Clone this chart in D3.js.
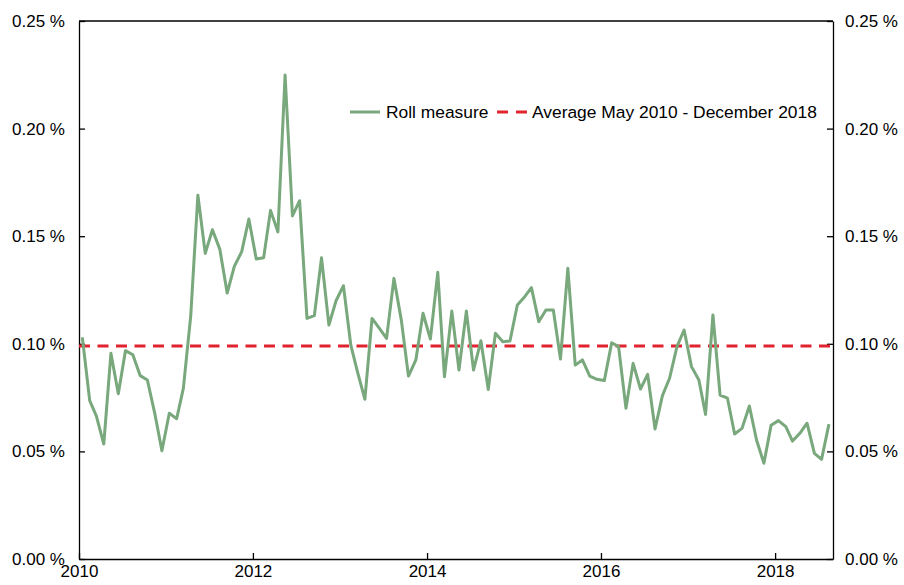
<!DOCTYPE html>
<html>
<head>
<meta charset="utf-8">
<script src="https://cdn.jsdelivr.net/npm/d3@7"></script>
<style>
  html, body { margin: 0; padding: 0; background: #fff; }
  svg { display: block; }
  text { font-family: "Liberation Sans", Arial, sans-serif; fill: #000; }
</style>
</head>
<body>
<svg id="chart" width="904" height="585"></svg>
<script>
// Monthly Roll measure, in percent, January 2010 - August 2018
const startYear = 2010;
const startMonth = 0; // January
const rollMeasure = [
  0.103, 0.0736, 0.0664, 0.0534, 0.0956, 0.0768, 0.0968, 0.0949, 0.0852, 0.0832, 0.0677, 0.0503,
  0.0677, 0.0652, 0.0793, 0.113, 0.169, 0.142, 0.153, 0.144, 0.1236, 0.136, 0.1428, 0.158,
  0.1394, 0.140, 0.162, 0.152, 0.2249, 0.1594, 0.1665, 0.1118, 0.1131, 0.140, 0.1087, 0.120,
  0.127, 0.0994, 0.087, 0.0742, 0.1118, 0.1072, 0.1025, 0.1304, 0.111, 0.085, 0.0925, 0.1142,
  0.1022, 0.1332, 0.0847, 0.1152, 0.0878, 0.1152, 0.0878, 0.1014, 0.0788, 0.1049, 0.101, 0.1013,
  0.118, 0.1219, 0.1261, 0.1103, 0.1157, 0.1157, 0.0929, 0.1351, 0.0901, 0.0925, 0.085, 0.0835,
  0.0829, 0.1005, 0.0987, 0.070, 0.0909, 0.079, 0.0858, 0.0604, 0.0759, 0.084, 0.0987, 0.1064,
  0.0894, 0.0832, 0.0672, 0.1134, 0.0762, 0.0747, 0.0581, 0.0607, 0.0711, 0.0553, 0.0445, 0.0621,
  0.0643, 0.0615, 0.0548, 0.0584, 0.0631, 0.0491, 0.0463, 0.0627
];
// Average of the measure, May 2010 - December 2018
const averageValue = 0.099;

const yTicks = [0, 0.05, 0.10, 0.15, 0.20, 0.25];
const xTickYears = [2010, 2012, 2014, 2016, 2018];
const seriesLabels = ["Roll measure", "Average May 2010 - December 2018"];

const margin = { left: 79, right: 904 - 833, top: 21, bottom: 585 - 559 };
const width = 904, height = 585;

const svg = d3.select("#chart");

// Each monthly observation is placed in the middle of its month
const points = rollMeasure.map((v, i) => ({
  date: new Date(startYear, startMonth + i, 15),
  value: v
}));

const x = d3.scaleTime()
  .domain([new Date(2010, 0, 1), new Date(2018, 8, 1)])
  .range([margin.left, width - margin.right]);

const y = d3.scaleLinear()
  .domain([0, 0.25])
  .range([height - margin.bottom, margin.top]);

const fmt = d => d3.format(".2f")(d) + " %";

// Frame axes, ticks pointing into the plot
const axisColor = "#000";
const leftAxis = d3.axisLeft(y).tickValues(yTicks).tickFormat(fmt).tickSizeInner(-6).tickSizeOuter(0).tickPadding(14);
const rightAxis = d3.axisRight(y).tickValues(yTicks).tickFormat(fmt).tickSizeInner(-6).tickSizeOuter(0).tickPadding(12);
const bottomAxis = d3.axisBottom(x)
  .tickValues(xTickYears.map(yr => new Date(yr, 0, 1)))
  .tickFormat(d3.timeFormat("%Y"))
  .tickSizeInner(-6).tickSizeOuter(0).tickPadding(6);

function styleAxis(g) {
  g.selectAll("path, line").attr("stroke", axisColor).attr("stroke-width", 1.3);
  g.selectAll("text").style("font-size", "17px").style("font-family", "'Liberation Sans', Arial, sans-serif").attr("fill", "#000");
}

svg.append("g").attr("transform", `translate(${margin.left},0)`).call(leftAxis).call(styleAxis);
svg.append("g").attr("transform", `translate(${width - margin.right},0)`).call(rightAxis).call(styleAxis);
svg.append("g").attr("transform", `translate(0,${height - margin.bottom})`).call(bottomAxis).call(styleAxis);

// Top border of the frame
svg.append("line")
  .attr("x1", margin.left).attr("x2", width - margin.right)
  .attr("y1", margin.top).attr("y2", margin.top)
  .attr("stroke", axisColor).attr("stroke-width", 1.3);

const green = "#78a87c";
const red = "#e0232e";

// Average line
svg.append("line")
  .attr("x1", x.range()[0]).attr("x2", x.range()[1])
  .attr("y1", y(averageValue)).attr("y2", y(averageValue))
  .attr("stroke", red).attr("stroke-width", 3)
  .attr("stroke-dasharray", "11,7.5");

// Roll measure series
const line = d3.line().x(d => x(d.date)).y(d => y(d.value));
svg.append("path")
  .datum(points)
  .attr("fill", "none")
  .attr("stroke", green)
  .attr("stroke-width", 3)
  .attr("stroke-linejoin", "round")
  .attr("d", line);

// Legend
const legend = svg.append("g").attr("transform", "translate(350,112)");
legend.append("line").attr("x1", 0).attr("x2", 30).attr("y1", 0).attr("y2", 0)
  .attr("stroke", green).attr("stroke-width", 3);
legend.append("text").attr("x", 36).attr("y", 0).attr("dy", "0.35em")
  .style("font-size", "17.4px").text(seriesLabels[0]);
legend.append("line").attr("x1", 147).attr("x2", 177).attr("y1", 0).attr("y2", 0)
  .attr("stroke", red).attr("stroke-width", 3).attr("stroke-dasharray", "11,8");
legend.append("text").attr("x", 182).attr("y", 0).attr("dy", "0.35em")
  .style("font-size", "17.4px").text(seriesLabels[1]);
</script>
</body>
</html>
